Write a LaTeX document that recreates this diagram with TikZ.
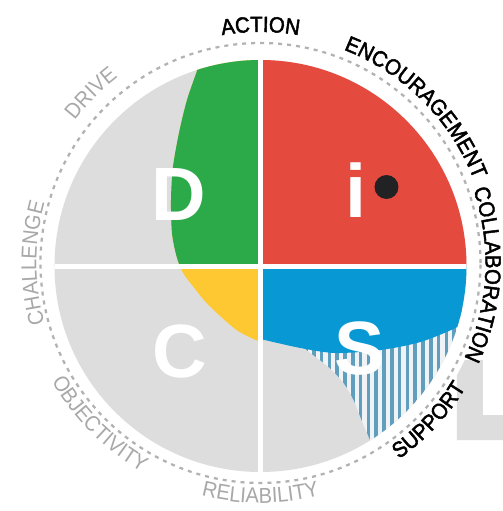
\documentclass[tikz,border=0pt]{standalone}
\usepackage{fontspec}
\setmainfont{Liberation Sans}
\newfontfamily\ringfam{Liberation Sans}[FakeStretch=0.93]
\newfontfamily\ringfamdark{Liberation Sans}[FakeStretch=0.93, FakeBold=2.2]
\usetikzlibrary{decorations.text}

\definecolor{discgray}{RGB}{221,221,221}
\definecolor{discgreen}{RGB}{44,170,74}
\definecolor{discred}{RGB}{228,74,62}
\definecolor{discblue}{RGB}{8,152,212}
\definecolor{discyellow}{RGB}{253,200,50}
\definecolor{ringgray}{RGB}{178,178,178}
\definecolor{labelgray}{RGB}{168,168,168}
\definecolor{hatchblue}{RGB}{96,158,190}
\definecolor{hatchbg}{RGB}{240,243,245}
\definecolor{dotblack}{RGB}{34,34,36}

\newcommand{\lightFont}{\ringfam\fontsize{12.3}{13}\selectfont}
\newcommand{\darkFont}{\ringfamdark\fontsize{12.5}{13}\selectfont}

% left edge of the D / C blob
\newcommand{\fillBlob}[1]{
    \fill[#1] plot[smooth] coordinates {(-55,222) (-62.5,198) (-73.5,166) (-81.5,133) (-87.5,99) (-89.5,66) (-88.5,33) (-84,10) (-78,-6) (-67,-21) (-52,-39) (-24,-64) (0,-76)} -- (0,222) -- cycle;
}
% text on the ring, tops outward (clockwise) or inward (counterclockwise)
\newcommand{\topLabel}[5]{
    \path[decorate, decoration={text along path, text align=center, text color=#4, text={|#3|#5}}] (#1+70:#2) arc[start angle=#1+70, end angle=#1-70, radius=#2];
}
\newcommand{\bottomLabel}[5]{
    \path[decorate, decoration={text along path, text align=center, text color=#4, text={|#3|#5}}] (#1-70:#2) arc[start angle=#1-70, end angle=#1+70, radius=#2];
}

\begin{document}
\begin{tikzpicture}[x=0.02cm, y=0.02cm,
    ringline/.style={draw=ringgray, line width=0.045cm, dash pattern=on 0.08cm off 0.1cm},
    crossline/.style={white, line width=0.1cm},
    hatchline/.style={draw=hatchblue, line width=0.07cm},
    bigletter/.style={text=white, font=\bfseries\fontsize{43}{43}\selectfont, anchor=base, inner sep=0pt}]
%%%%%%%%%%%%%%%%%%

\useasboundingbox[fill=white] (-260.5,-245) rectangle (242.5,266);

%Gray L behind the ring
    \fill[discgray] (196.5,-94) -- (222.5,-94) -- (222.5,-149) -- (242.5,-149) -- (242.5,-174) -- (196.5,-174) -- cycle;
    \fill[white] (0,3) circle (226);

%Dashed ring
    \draw[ringline] (0,3) circle (220);

%Disk
    \fill[discgray] (0,0) circle (206);
\begin{scope}
    \clip (0,0) circle (206);
    \fill[discred] (0,0) rectangle (210,210);
    \fillBlob{discyellow}
    \begin{scope}
        \clip (-210,0) rectangle (0,230);
        \fillBlob{discgreen}
    \end{scope}

% Striped part under S
    \begin{scope}
        \clip plot[smooth] coordinates {(40,-78) (46,-84) (68,-101) (83,-117) (93,-134) (101,-154) (112,-180)} -- (220,-180) -- (220,-40) -- cycle;
        \fill[hatchbg] (0,-210) rectangle (210,0);
        \foreach \x in {45.5,53.3,...,215}
        {
            \draw[hatchline] (\x,-210) -- (\x,-40);
        }
    \end{scope}
    \fill[discblue] (0,0) -- plot[smooth] coordinates {(0,-73) (40,-82) (75,-87) (120,-84) (160,-76) (195,-62) (215,-50)} -- (215,0) -- cycle;

%Cross
    \draw[crossline] (0,-210) -- (0,210);
    \draw[crossline] (-210,0) -- (210,0);
\end{scope}

% Letters
    \node[bigletter] (letD) at (-81.5,46) {D};
    \node[bigletter] (letI) at (95.5,49) {i};
    \node[bigletter] (letC) at (-80.5,-111) {C};
    \node[bigletter] (letS) at (99.5,-108) {S};
    \fill[dotblack] (126,79) circle (12);

% Ring labels
\begin{scope}[shift={(0,3)}]
    \topLabel{90}{231}{\darkFont}{black}{ACTION}
    \topLabel{45}{229}{\darkFont}{black}{ENCOURAGEMENT}
    \topLabel{-3}{225}{\darkFont}{black}{COLLABORATION}
    \bottomLabel{-43}{240}{\darkFont}{black}{SUPPORT}
    \bottomLabel{-90}{240}{\lightFont}{labelgray}{RELIABILITY}
    \bottomLabel{-135}{240}{\lightFont}{labelgray}{OBJECTIVITY}
    \topLabel{180}{224}{\lightFont}{labelgray}{CHALLENGE}
    \topLabel{135}{234}{\lightFont}{labelgray}{DRIVE}
\end{scope}

\end{tikzpicture}
\end{document}
